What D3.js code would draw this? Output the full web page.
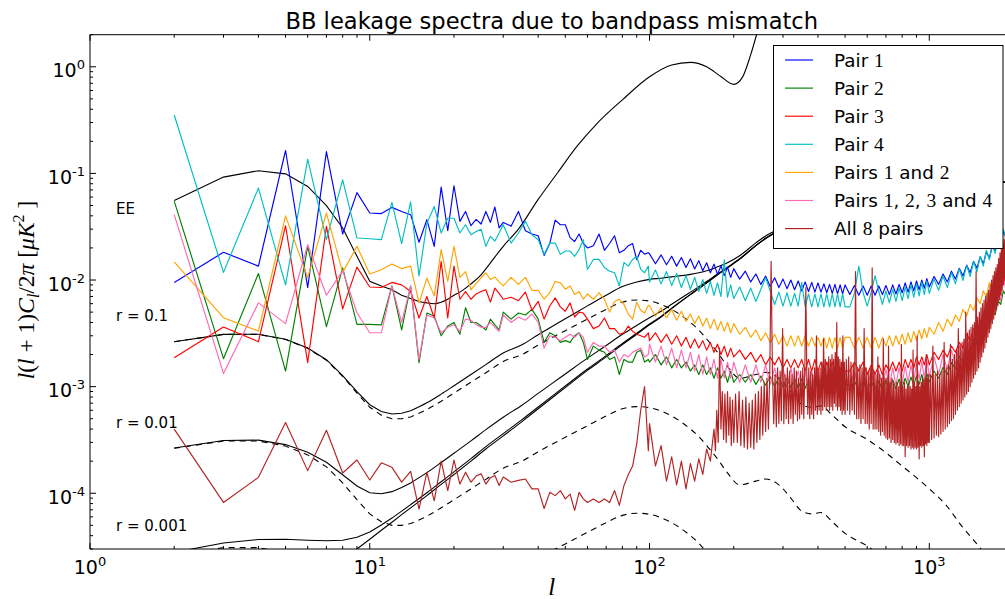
<!DOCTYPE html>
<html><head><meta charset="utf-8">
<script src="https://cdn.jsdelivr.net/npm/d3@7"></script>
<style>body{margin:0;background:#fff}svg{display:block}</style>
</head><body>
<svg id="c" width="1005" height="599"></svg>
<script>
// ---------- data ----------
const ellLow = [2,3,4,5,6,7,8,9,10,11,12,13,14,15,16,17,18,19,20,21,22,23,24,25,26,27,28,29,30,
  32,34,36,38,40,42,44,46,48,50,52,54,56,58,60,
  63,66,69,72,75,78,81,84,87,90,93,96,99];
const ellHigh = [100,105,110,115,120,125,130,135,140,145,150,155,160,165,170,175,180,185,190,195,200,
  210,220,230,240,250,260,270,280,290,300,310,320,330,340,350,360,370,380,390,400,410,420,430,440,450,460,470,480,490,500,
  520,540,560,580,600,620,640,660,680,700,720,740,760,780,800,820,840,860,880,900,920,940,960,980,1000,
  1040,1080,1120,1160,1200,1240,1280,1320,1360,1400,1440,1480,1520,1560,1600,1640,1680,1720,1760,1800,1840,1880,1920,1960,2000];
// multipole sampling grid used for the "All 8 pairs" curve above l = 100
const ellBrickHigh = [].concat(d3.range(100,171,5), d3.range(172,201,2), d3.range(203,501,3), d3.range(505,1001,5), d3.range(1010,2001,10));

const pair1Low = [0.0095,0.0182,0.0135,0.164,0.0085,0.160,0.027,0.066,0.0425,0.042,0.048,0.044,0.041,0.0226,0.0368,0.0207,0.0744,0.029,0.0766,0.0355,0.044,0.0323,0.037,0.0335,0.044,0.0347,0.0484,0.0308,0.0347,
  0.032,0.044,0.029,0.027,0.026,0.017,0.022,0.0365,0.033,0.033,0.025,0.023,0.027,0.022,0.020,
  0.021,0.027,0.019,0.022,0.026,0.018,0.019,0.021,0.022,0.0155,0.019,0.0175,0.018];
const pair1High = [0.0176,0.0142,0.0172,0.0139,0.0167,0.0135,0.0163,0.0131,0.0158,0.0127,0.0152,0.0122,0.0145,0.0117,0.0141,0.0113,0.0136,0.011,0.0132,0.0106,0.0128,
  0.0102,0.0121,0.0096,0.0114,0.0091,0.0109,0.0087,0.0105,0.0085,0.0102,0.0083,0.010,0.0081,0.0098,0.0079,0.0096,0.0078,0.0095,0.0077,0.0094,0.0077,0.0092,0.0076,0.0091,0.0075,0.0091,0.0074,0.009,0.0074,0.009,
  0.0073,0.0089,0.0072,0.0088,0.0072,0.0088,0.0072,0.0088,0.0073,0.0089,0.0073,0.009,0.0074,0.0091,0.0076,0.0094,0.0077,0.0096,0.0079,0.0098,0.0081,0.010,0.0084,0.0103,0.0086,
  0.0108,0.0091,0.0114,0.0096,0.0121,0.0102,0.0129,0.0109,0.0138,0.0117,0.015,0.0129,0.0165,0.0142,0.0184,0.016,0.0209,0.0185,0.0242,0.0216,0.0286,0.0252,0.033,0.0288,0.037];

const pair2Low = [0.055,0.00183,0.0115,0.0014,0.0207,0.00365,0.013,0.00384,0.00384,0.0038,0.0088,0.0034,0.0088,0.00168,0.0049,0.0046,0.003,0.0037,0.004,0.0031,0.0055,0.004,0.004,0.0037,0.0034,0.0043,0.0038,0.0034,0.005,
  0.0043,0.0049,0.0047,0.0053,0.0043,0.0026,0.0032,0.003,0.0026,0.0027,0.0026,0.003,0.0032,0.0026,0.0018,
  0.0024,0.0022,0.0021,0.0018,0.0019,0.0013,0.0018,0.0017,0.0017,0.0021,0.0022,0.0017,0.0018];
const pair2High = [0.0017,0.002,0.0016,0.0019,0.0015,0.0018,0.0015,0.0017,0.0014,0.0016,0.0013,0.0016,0.0013,0.0015,0.0012,0.0015,0.0012,0.0014,0.0011,0.0014,0.0011,
  0.0013,0.0011,0.0013,0.00105,0.00126,0.00103,0.00124,0.00101,0.00122,0.00099,0.0012,0.00098,0.0012,0.00097,0.00118,0.00096,0.00117,0.00096,0.00117,0.00095,0.00116,0.00095,0.00115,0.00094,0.00115,0.00094,0.00114,0.00094,0.00114,0.00094,
  0.00093,0.00113,0.00093,0.00113,0.00093,0.00113,0.00093,0.00113,0.00093,0.00114,0.00094,0.00116,0.00096,0.00118,0.00099,0.0012,0.001,0.00123,0.00103,0.00126,0.00105,0.0013,0.00108,0.00133,0.00111,
  0.0014,0.0012,0.00152,0.0013,0.00168,0.00147,0.00193,0.00171,0.0023,0.0021,0.0028,0.0025,0.0034,0.0031,0.004,0.0036,0.0051,0.0047,0.0064,0.0059,0.0079,0.0072,0.0099,0.009,0.012];

const pair3Low = [0.00187,0.00362,0.00264,0.0323,0.00168,0.0319,0.00537,0.0132,0.0086,0.0085,0.0095,0.009,0.0078,0.0044,0.007,0.0044,0.015,0.0044,0.0135,0.0066,0.0078,0.0066,0.0074,0.0078,0.0081,0.0062,0.0084,0.0075,0.0066,
  0.0069,0.0064,0.0077,0.0052,0.0063,0.0043,0.0057,0.0068,0.0056,0.0051,0.0061,0.0045,0.005,0.0049,0.0043,
  0.0035,0.0037,0.0044,0.0035,0.0035,0.0031,0.0032,0.0037,0.0033,0.0031,0.003,0.0029,0.0032];
const pair3High = [0.0027,0.0032,0.0026,0.0031,0.0025,0.003,0.0024,0.0029,0.0023,0.0028,0.0023,0.0027,0.0022,0.0026,0.0021,0.0025,0.002,0.0024,0.0019,0.0023,0.0019,
  0.0022,0.0018,0.0021,0.0017,0.002,0.0016,0.0019,0.0016,0.0019,0.0015,0.0018,0.0015,0.0018,0.0015,0.0018,0.0014,0.0018,0.0014,0.0018,0.0014,0.0017,0.0014,0.0017,0.0014,0.0017,0.0014,0.0017,0.0014,0.0017,0.0014,
  0.0014,0.0017,0.0014,0.0017,0.0013,0.0016,0.0013,0.0016,0.0013,0.0016,0.0014,0.0017,0.0014,0.0017,0.0014,0.0018,0.0015,0.0018,0.0015,0.0019,0.0016,0.0019,0.0016,0.002,0.0016,
  0.0021,0.0018,0.0022,0.0019,0.0024,0.0021,0.0026,0.0023,0.0031,0.0027,0.0035,0.0032,0.0042,0.0038,0.0052,0.0047,0.0064,0.0059,0.008,0.0074,0.0101,0.0094,0.0129,0.0117,0.016];

const pair4Low = [0.353,0.0118,0.0728,0.009,0.136,0.0239,0.087,0.0248,0.0244,0.0239,0.0534,0.022,0.054,0.0109,0.034,0.049,0.0276,0.038,0.038,0.0276,0.033,0.0266,0.0285,0.030,0.0207,0.0257,0.0232,0.0276,0.033,
  0.0222,0.0276,0.0355,0.0266,0.0239,0.0174,0.0222,0.0222,0.0174,0.0187,0.0187,0.0167,0.0193,0.0239,0.0126,
  0.0156,0.0156,0.0131,0.0121,0.0117,0.0088,0.0146,0.0135,0.0156,0.0167,0.0126,0.0117,0.0135];
const pair4High = [0.0096,0.0124,0.0092,0.012,0.0089,0.0115,0.0085,0.011,0.0082,0.0106,0.0078,0.0101,0.0075,0.0097,0.0072,0.0094,0.007,0.0155,0.0069,0.009,0.0067,
  0.0086,0.0064,0.0084,0.0063,0.0082,0.0105,0.0079,0.0059,0.0077,0.0057,0.0076,0.0057,0.0075,0.0057,0.0095,0.0056,0.0074,0.0056,0.0074,0.0056,0.0074,0.0056,0.0074,0.0056,0.0074,0.0056,0.0074,0.0056,0.0074,0.0056,
  0.0056,0.0075,0.0135,0.0076,0.0057,0.0077,0.011,0.0078,0.0059,0.0079,0.0061,0.0082,0.0063,0.0084,0.0064,0.0086,0.0067,0.009,0.0069,0.0092,0.0071,0.0095,0.0073,0.0098,0.0075,
  0.0102,0.008,0.0109,0.0085,0.0117,0.0092,0.0127,0.0099,0.0137,0.0108,0.015,0.0119,0.0167,0.0135,0.0191,0.0155,0.0219,0.0178,0.0253,0.0209,0.03,0.0244,0.0345,0.0278,0.039];

const pairs12Low = [0.0148,0.00443,0.00332,0.040,0.0105,0.0425,0.0118,0.0207,0.0114,0.0125,0.0141,0.0128,0.0135,0.0061,0.0104,0.0071,0.0193,0.0097,0.0207,0.0106,0.012,0.0081,0.0093,0.0105,0.0117,0.0101,0.0107,0.0096,0.0088,
  0.0106,0.0091,0.0106,0.008,0.008,0.0066,0.0076,0.0097,0.0094,0.0082,0.0088,0.0073,0.0078,0.0066,0.0074,
  0.0066,0.0076,0.0066,0.005,0.0063,0.0066,0.0059,0.0048,0.0043,0.0062,0.0052,0.0049,0.0058];
const pairs12High = [0.0057,0.0046,0.0055,0.0044,0.0053,0.0042,0.0051,0.0041,0.0048,0.0039,0.0046,0.0037,0.0044,0.0035,0.0043,0.0034,0.0041,0.0033,0.004,0.0032,0.0039,
  0.0031,0.0036,0.0029,0.0034,0.0027,0.0032,0.0026,0.0031,0.0025,0.003,0.0024,0.003,0.0024,0.003,0.0024,0.003,0.0024,0.0029,0.0024,0.0029,0.0024,0.0029,0.0023,0.0029,0.0023,0.0029,0.0023,0.0029,0.0023,0.0029,
  0.0029,0.0023,0.0029,0.0023,0.0029,0.0023,0.0029,0.0023,0.0029,0.0024,0.003,0.0024,0.003,0.0025,0.0031,0.0025,0.0032,0.0026,0.0033,0.0027,0.0034,0.0028,0.0035,0.0029,0.0036,
  0.0031,0.004,0.0033,0.0043,0.0037,0.0047,0.0041,0.0053,0.0046,0.0059,0.0052,0.0068,0.006,0.0079,0.007,0.0095,0.0086,0.0116,0.0105,0.0143,0.013,0.0176,0.0162,0.022,0.0198];

const pairs1234Low = [0.041,0.00133,0.0061,0.0039,0.0215,0.0072,0.0122,0.00493,0.0032,0.0032,0.0088,0.004,0.0088,0.0018,0.0047,0.0044,0.0032,0.0036,0.0038,0.0033,0.0043,0.0042,0.0038,0.0036,0.0036,0.004,0.0036,0.0033,0.0047,
  0.004,0.0045,0.0042,0.0048,0.004,0.0023,0.003,0.0029,0.0027,0.0029,0.0031,0.0029,0.0032,0.0029,0.0021,
  0.0026,0.0024,0.0024,0.0021,0.0022,0.0017,0.002,0.0019,0.0021,0.0022,0.0023,0.0019,0.002];
const pairs1234High = [0.0025,0.0017,0.0024,0.0016,0.0023,0.0015,0.0022,0.0015,0.0021,0.0014,0.002,0.0013,0.0019,0.0013,0.0018,0.0012,0.0018,0.0012,0.0017,0.0012,0.0017,
  0.0011,0.0016,0.0011,0.0016,0.0011,0.0016,0.00105,0.0015,0.00102,0.0015,0.001,0.0015,0.001,0.0014,0.001,0.0014,0.00098,0.0014,0.00097,0.0014,0.00096,0.0014,0.00095,0.0014,0.00095,0.0014,0.00095,0.0014,0.00095,0.0014,
  0.00095,0.0014,0.00095,0.0014,0.00096,0.0014,0.00097,0.0014,0.00099,0.00145,0.001,0.0015,0.00103,0.00152,0.00106,0.00156,0.0011,0.0016,0.00113,0.00166,0.00117,0.00172,0.0012,0.00178,0.00125,
  0.0019,0.0013,0.002,0.00145,0.0022,0.0016,0.0025,0.0018,0.0029,0.0022,0.0034,0.0026,0.0041,0.0032,0.005,0.0039,0.0064,0.005,0.0082,0.0064,0.0104,0.0081,0.0132,0.0102,0.0166];

const all8Low = [4.0e-4,8.2e-5,1.41e-4,4.6e-4,1.63e-4,3.9e-4,1.55e-4,2.05e-4,1.33e-4,1.93e-4,1.75e-4,1.27e-4,1.6e-4,7.1e-5,1.57e-4,8.5e-5,2.0e-4,1.06e-4,2.05e-4,1.22e-4,1.57e-4,1.27e-4,1.45e-4,1.52e-4,1.22e-4,1.4e-4,1.47e-4,1.18e-4,1.42e-4,
  1.27e-4,1.32e-4,1.36e-4,1.1e-4,1.1e-4,7.2e-5,1.02e-4,9.5e-5,1.06e-4,8.85e-5,9.8e-5,6.9e-5,1.02e-4,8.85e-5,8.2e-5,
  8.85e-5,8.2e-5,8.85e-5,8.2e-5,1.06e-4,7.7e-5,1.18e-4,1.5e-4,1.8e-4,2.9e-4,6e-4,1.0e-3,2.5e-4];
const all8High = [
  4.5e-4,1.8e-4,2.8e-4,1.3e-4,2.2e-4,1.2e-4,2.0e-4,1.1e-4,1.9e-4,1.3e-4,2.1e-4,1.5e-4,2.6e-4,2.0e-4,4.0e-4,
  2.5e-4,6e-4,3e-4,2.3e-3,4e-4,9e-4,3.2e-4,8.5e-4,3e-4,9e-4,3.5e-4,8e-4,2.8e-4,7.5e-4,3e-4,
  8.5e-4,3e-4,9e-4,2.8e-4,7.5e-4,2.7e-4,8e-4,2.6e-4,7e-4,2.7e-4,
  7.5e-4,2.6e-4,8.5e-4,3e-4,9e-4,3.2e-4,1.0e-3,3.5e-4,1.1e-3,3.8e-4,
  1.2e-3,4e-4,1.3e-3,1.5e-2,1.4e-3,4.5e-4,1.3e-3,4.2e-4,1.5e-3,4.5e-4,
  1.4e-3,4.8e-4,3.5e-3,4.5e-4,1.3e-3,5e-4,1.5e-3,4.5e-4,1.4e-3,5e-4,
  1.3e-3,4.5e-4,1.5e-3,5.5e-4,1.4e-3,4.8e-4,1.2e-3,5e-4,1.4e-3,5.5e-4,
  1.5e-3,5e-4,1.4e-3,8.5e-3,1.3e-3,5.5e-4,1.5e-3,5e-4,1.4e-3,5.5e-4,
  1.3e-3,5e-4,1.5e-3,6e-4,3e-3,5.5e-4,1.4e-3,6e-4,1.5e-3,5.5e-4,
  1.7e-3,6e-4,2.8e-3,6.5e-4,1.8e-3,6e-4,1.7e-3,6.5e-4,1.9e-3,6e-4,
  1.8e-3,6.5e-4,2e-3,6e-4,1.8e-3,7e-4,2.1e-3,6.5e-4,4e-3,6e-4,
  1.9e-3,6.5e-4,1.8e-3,6e-4,1.7e-3,5.5e-4,3e-3,6e-4,1.7e-3,5.5e-4,
  1.8e-3,6e-4,1.9e-3,5.5e-4,1.7e-3,6e-4,1.6e-3,5.5e-4,1.2e-2,5e-4,
  1.5e-3,5e-4,1.6e-3,4.5e-4,1.5e-3,5e-4,3.5e-3,4.5e-4,1.5e-3,4.5e-4,
  1.4e-3,4e-4,1.5e-3,4.5e-4,1.3e-2,4e-4,1.4e-3,4e-4,1.3e-3,4e-4,
  1.9e-3,3.8e-4,1.3e-3,3.5e-4,1.2e-3,3.8e-4,2.8e-3,3.5e-4,1.2e-3,3.3e-4,
  1.2e-3,3.2e-4,2.4e-3,3.3e-4,1.1e-3,3e-4,1.2e-3,3.2e-4,1.1e-3,3e-4,
  1.0e-3,2.9e-4,1.1e-3,3e-4,1.0e-3,2.8e-4,1.1e-3,2.9e-4,2.5e-3,2.8e-4,
  1.0e-3,2.8e-4,1.1e-3,2.2e-4,9.5e-4,2.8e-4,1.0e-3,2.7e-4,1.1e-3,2.8e-4,
  1.0e-3,2.6e-4,9.5e-4,2.7e-4,2.2e-3,2.6e-4,1.1e-3,2.7e-4,1.0e-3,2.6e-4,
  3e-3,2.7e-4,1.1e-3,2.1e-4,1.0e-3,2.8e-4,1.1e-3,2.7e-4,1.2e-3,2.8e-4,
  1.1e-3,2.2e-4,1.2e-3,2.9e-4,2.0e-3,2.8e-4,1.2e-3,3e-4,1.3e-3,3e-4,
  1.3e-3,3.2e-4,2.4e-3,3.3e-4,1.3e-3,3.5e-4,1.4e-3,3.4e-4,1.3e-3,3.6e-4,
  1.4e-3,3.8e-4,2.6e-3,4e-4,1.5e-3,4.2e-4,1.6e-3,4.5e-4,2.5e-3,4.8e-4,
  1.8e-3,5e-4,2e-3,5.5e-4,2.2e-3,6e-4,3.5e-3,6.5e-4,2.4e-3,7e-4,
  2.6e-3,7.5e-4,2.8e-3,8e-4,5e-3,8.5e-4,3.2e-3,9e-4,3.4e-3,1.0e-3,
  3.6e-3,1.1e-3,3.8e-3,1.2e-3,4e-3,1.3e-3,1.2e-2,1.4e-3,4.5e-3,1.5e-3,
  5e-3,1.7e-3,5.5e-3,1.9e-3,6e-3,2.1e-3,6.5e-3,2.3e-3,7e-3,2.6e-3,
  7.5e-3,2.9e-3,8e-3,3.2e-3,9e-3,3.5e-3,1.0e-2,3.9e-3,1.1e-2,4.3e-3,
  1.2e-2,4.8e-3,1.3e-2,5.3e-3,1.4e-2,5.8e-3,1.6e-2,6.5e-3,1.8e-2,7.2e-3,
  2.0e-2,8e-3,2.2e-2,9e-3,2.4e-2,1.0e-2,2.7e-2,1.1e-2,3.0e-2,1.2e-2,
  3.3e-2,1.3e-2,3.6e-2,1.5e-2,4e-2,1.6e-2,4.4e-2,1.8e-2,4.8e-2,2e-2];

// theory curves
const ellEE = [2,3,4,5,6,7,8,9,10,11,12,13,14,15,16,17,18,19,20,21,23,25,27,30,34,40,47,55,65,80,100,120,140,160,180,200,215,230,245,260,280];
const eeVals = [0.0558,0.0923,0.106,0.099,0.0754,0.0498,0.0308,0.0167,0.00975,0.0088,0.0081,0.0072,0.0067,0.0063,0.0061,0.006,0.0062,0.0066,0.0072,0.0077,
  0.0092,0.0112,0.0145,0.0207,0.03,0.057,0.102,0.179,0.295,0.49,0.806,1.04,1.1,1.0,0.81,0.684,0.8,1.3,2.3,4.0,8.0];
const ellTh = [2,3,4,5,6,7,8,9,10,11,12,13,14,16,18,20,23,26,30,35,40,45,50,60,70,80,90,100,110,120,140,150,160,175,190,210,240,260,290,320,350,380,410,450,500,600,700,800,900,1000,1150,1300,1500,1700,2000];
const tensorR01 = [2.64e-3,3.09e-3,3.09e-3,2.77e-3,2.29e-3,1.77e-3,1.25e-3,8.7e-4,6.4e-4,5.4e-4,5.0e-4,5.0e-4,5.2e-4,6.1e-4,7.3e-4,8.7e-4,1.1e-3,1.35e-3,1.72e-3,2.0e-3,2.45e-3,2.9e-3,3.35e-3,4.3e-3,5.3e-3,6.2e-3,6.5e-3,6.35e-3,5.9e-3,5.3e-3,4.0e-3,3.4e-3,2.8e-3,2.1e-3,1.55e-3,1.2e-3,1.3e-3,1.36e-3,1.2e-3,9.0e-4,6.8e-4,6.4e-4,6.6e-4,5.4e-4,4.2e-4,3.2e-4,2.4e-4,1.8e-4,1.4e-4,1.1e-4,7.7e-5,5.0e-5,3.2e-5,2.1e-5,1.2e-5];
const tensorR001 = [2.64e-4,3.09e-4,3.09e-4,2.77e-4,2.29e-4,1.77e-4,1.25e-4,8.7e-5,6.4e-5,5.4e-5,5.0e-5,5.0e-5,5.2e-5,6.1e-5,7.3e-5,8.7e-5,1.1e-4,1.35e-4,1.72e-4,2.0e-4,2.45e-4,2.9e-4,3.35e-4,4.3e-4,5.3e-4,6.2e-4,6.5e-4,6.35e-4,5.9e-4,5.3e-4,4.0e-4,3.4e-4,2.8e-4,2.1e-4,1.55e-4,1.2e-4,1.3e-4,1.36e-4,1.2e-4,9.0e-5,6.8e-5,6.4e-5,6.6e-5,5.4e-5,4.2e-5,3.2e-5,2.4e-5,1.8e-5,1.4e-5,1.1e-5,7.7e-6,5.0e-6,3.2e-6,2.1e-6,1.2e-6];
const tensorR0001 = [2.64e-5,3.09e-5,3.09e-5,2.77e-5,2.29e-5,1.77e-5,1.25e-5,8.7e-6,6.4e-6,5.4e-6,5.0e-6,5.0e-6,5.2e-6,6.1e-6,7.3e-6,8.7e-6,1.1e-5,1.35e-5,1.72e-5,2.0e-5,2.45e-5,2.9e-5,3.35e-5,4.3e-5,5.3e-5,6.2e-5,6.5e-5,6.35e-5,5.9e-5,5.3e-5,4.0e-5,3.4e-5,2.8e-5,2.1e-5,1.55e-5,1.2e-5,1.3e-5,1.36e-5,1.2e-5,9.0e-6,6.8e-6,6.4e-6,6.6e-6,5.4e-6,4.2e-6,3.2e-6,2.4e-6,1.8e-6,1.4e-6,1.1e-6,7.7e-7,5.0e-7,3.2e-7,2.1e-7,1.2e-7];
const lensingBB = [1.5e-6,3.3e-6,5.9e-6,9.3e-6,1.33e-5,1.81e-5,2.37e-5,3.0e-5,3.7e-5,4.5e-5,5.35e-5,6.3e-5,7.3e-5,9.5e-5,1.21e-4,1.5e-4,2.0e-4,2.6e-4,3.45e-4,4.7e-4,6.2e-4,7.9e-4,9.8e-4,1.42e-3,1.9e-3,2.48e-3,3.1e-3,3.8e-3,4.5e-3,5.4e-3,7.3e-3,8.3e-3,9.4e-3,1.12e-2,1.3e-2,1.57e-2,2.1e-2,2.45e-2,2.9e-2,3.3e-2,3.6e-2,4.0e-2,4.4e-2,4.9e-2,5.5e-2,6.6e-2,7.5e-2,8.2e-2,8.7e-2,9.0e-2,9.2e-2,9.2e-2,9.0e-2,8.6e-2,8.0e-2];
const totalR01 = [2.64e-3,3.09e-3,3.1e-3,2.78e-3,2.3e-3,1.79e-3,1.27e-3,9.0e-4,6.77e-4,5.85e-4,5.54e-4,5.63e-4,5.93e-4,7.05e-4,8.51e-4,1.02e-3,1.3e-3,1.61e-3,2.07e-3,2.47e-3,3.07e-3,3.69e-3,4.33e-3,5.72e-3,7.2e-3,8.68e-3,9.6e-3,1.015e-2,1.04e-2,1.07e-2,1.13e-2,1.17e-2,1.22e-2,1.33e-2,1.455e-2,1.69e-2,2.23e-2,2.59e-2,3.02e-2,3.39e-2,3.67e-2,4.06e-2,4.47e-2,4.95e-2,5.54e-2,6.63e-2,7.52e-2,8.22e-2,8.71e-2,9.01e-2,9.21e-2,9.2e-2,9.0e-2,8.6e-2,8.0e-2];
const totalR001 = [2.655e-4,3.12e-4,3.15e-4,2.86e-4,2.42e-4,1.95e-4,1.49e-4,1.17e-4,1.01e-4,9.9e-5,1.035e-4,1.13e-4,1.25e-4,1.56e-4,1.94e-4,2.37e-4,3.1e-4,3.95e-4,5.17e-4,6.7e-4,8.65e-4,1.08e-3,1.315e-3,1.85e-3,2.43e-3,3.1e-3,3.75e-3,4.435e-3,5.09e-3,5.93e-3,7.7e-3,8.64e-3,9.68e-3,1.141e-2,1.316e-2,1.582e-2,2.113e-2,2.464e-2,2.912e-2,3.309e-2,3.607e-2,4.006e-2,4.407e-2,4.905e-2,5.504e-2,6.603e-2,7.502e-2,8.202e-2,8.701e-2,9.001e-2,9.2e-2,9.2e-2,9.0e-2,8.6e-2,8.0e-2];
const totalR0001 = [2.79e-5,3.42e-5,3.68e-5,3.7e-5,3.62e-5,3.58e-5,3.62e-5,3.87e-5,4.34e-5,5.04e-5,5.85e-5,6.8e-5,7.82e-5,1.011e-4,1.283e-4,1.587e-4,2.11e-4,2.735e-4,3.622e-4,4.9e-4,6.445e-4,8.19e-4,1.0135e-3,1.463e-3,1.953e-3,2.542e-3,3.165e-3,3.864e-3,4.559e-3,5.453e-3,7.34e-3,8.334e-3,9.428e-3,1.1221e-2,1.3016e-2,1.5712e-2,2.1013e-2,2.4514e-2,2.9012e-2,3.3009e-2,3.6007e-2,4.0006e-2,4.4007e-2,4.9005e-2,5.5004e-2,6.6e-2,7.5e-2,8.2e-2,8.7e-2,9.0e-2,9.2e-2,9.2e-2,9.0e-2,8.6e-2,8.0e-2];

const seriesNames = ["Pair 1","Pair 2","Pair 3","Pair 4","Pairs 1 and 2","Pairs 1, 2, 3 and 4","All 8 pairs"];
const seriesColors = ["#0000ff","#008000","#ff0000","#00bfbf","#ffa500","#ff69b4","#b22222"];
const xTickVals = [1,10,100,1000];
const xTickExp = ["0","1","2","3"];
const yTickVals = [1e-4,1e-3,1e-2,1e-1,1];
const yTickExp = ["-4","-3","-2","-1","0"];
const textLabels = [["EE",0.042],["r = 0.1",0.0041],["r = 0.01",0.00041],["r = 0.001",0.0000445]];

// ---------- chart ----------
const svg = d3.select("#c");
const X0 = 90, X1 = 1013.5, Y0 = 34.7, Y1 = 549;
const x = d3.scaleLog().domain([1, 2000]).range([X0, X1]);
const y = d3.scaleLog().domain([3e-5, 2]).range([Y1, Y0]);

svg.append("rect").attr("width",1005).attr("height",599).attr("fill","#fff");
svg.append("defs").append("clipPath").attr("id","clip")
  .append("rect").attr("x",X0).attr("y",Y0).attr("width",X1-X0).attr("height",Y1-Y0);
const plot = svg.append("g").attr("clip-path","url(#clip)");

const zip = (ls, vs) => ls.map((l,i)=>[l, vs[i]]).filter(d=>d[1]!==undefined && d[1]>0);
const lin = d3.line().x(d=>x(d[0])).y(d=>y(d[1]));
const smooth = d3.line().x(d=>x(d[0])).y(d=>y(d[1])).curve(d3.curveMonotoneX);

// integer multipoles are joined by straight segments at low l, smooth at higher l
function drawTheory(ls, vs, dashed){
  const pts = zip(ls,vs);
  const lo = pts.filter(d=>d[0]<=14), hi = pts.filter(d=>d[0]>=14);
  const dpath = lin(lo) + smooth(hi).replace(/^M/,"L");
  plot.append("path").attr("d", dpath).attr("fill","none")
    .attr("stroke","#000").attr("stroke-width",1.1)
    .attr("stroke-dasharray", dashed ? "6,5" : null);
}
drawTheory(ellEE, eeVals, false);
drawTheory(ellTh, totalR01, false);
drawTheory(ellTh, totalR001, false);
drawTheory(ellTh, totalR0001, false);
drawTheory(ellTh, lensingBB, false);
drawTheory(ellTh, tensorR01, true);
drawTheory(ellTh, tensorR001, true);
drawTheory(ellTh, tensorR0001, true);

const ellAll = ellLow.concat(ellHigh);
const seriesData = [
  zip(ellAll, pair1Low.concat(pair1High)), zip(ellAll, pair2Low.concat(pair2High)), zip(ellAll, pair3Low.concat(pair3High)),
  zip(ellAll, pair4Low.concat(pair4High)), zip(ellAll, pairs12Low.concat(pairs12High)), zip(ellAll, pairs1234Low.concat(pairs1234High)),
  zip(ellLow.concat(ellBrickHigh), all8Low.concat(all8High))
];
seriesData.forEach((pts,i)=>{
  plot.append("path").attr("d", lin(pts)).attr("fill","none")
    .attr("stroke", seriesColors[i]).attr("stroke-width",1.15).attr("stroke-linejoin","round");
});

// in-plot labels
textLabels.forEach(([t,v])=>{
  svg.append("text").attr("x",116).attr("y",y(v)).text(t)
    .attr("font-family","DejaVu Sans").attr("font-size",15).attr("fill","#000");
});

// axes frame
const axG = svg.append("g").attr("stroke","#000").attr("stroke-width",1).attr("fill","none");
axG.append("line").attr("x1",X0).attr("x2",1005).attr("y1",Y0).attr("y2",Y0);
axG.append("line").attr("x1",X0).attr("x2",1005).attr("y1",Y1).attr("y2",Y1);
axG.append("line").attr("x1",X0).attr("x2",X0).attr("y1",Y0).attr("y2",Y1);

// ticks (inward, all sides)
x.ticks().filter(v=>v>=1 && v<=2000).forEach(v=>{
  const L = xTickVals.includes(v) ? 6 : 3;
  const px = x(v);
  axG.append("line").attr("x1",px).attr("x2",px).attr("y1",Y1).attr("y2",Y1-L);
  axG.append("line").attr("x1",px).attr("x2",px).attr("y1",Y0).attr("y2",Y0+L);
});
y.ticks().filter(v=>v>=3e-5 && v<=2).forEach(v=>{
  const L = yTickVals.some(t=>Math.abs(t-v)/t<1e-6) ? 6 : 3;
  const py = y(v);
  axG.append("line").attr("x1",X0).attr("x2",X0+L).attr("y1",py).attr("y2",py);
});

// tick labels
xTickVals.forEach((v,i)=>{
  const t = svg.append("text").attr("x",x(v)).attr("y",574).attr("text-anchor","middle")
    .attr("font-family","DejaVu Sans").attr("font-size",19).attr("fill","#000");
  t.append("tspan").text("10");
  t.append("tspan").attr("dy",-8).attr("font-size",13).text(xTickExp[i]);
});
yTickVals.forEach((v,i)=>{
  const t = svg.append("text").attr("x",85).attr("y",y(v)+10.5).attr("text-anchor","end")
    .attr("font-family","DejaVu Sans").attr("font-size",19).attr("fill","#000");
  t.append("tspan").text("10");
  t.append("tspan").attr("dy",-8).attr("font-size",13).text(yTickExp[i]);
});

// title
svg.append("text").attr("x",(X0+X1)/2).attr("y",29).attr("text-anchor","middle")
  .attr("font-family","DejaVu Sans").attr("font-size",22.6).attr("fill","#000")
  .text("BB leakage spectra due to bandpass mismatch");

// x label
svg.append("text").attr("x",(X0+X1)/2).attr("y",595).attr("text-anchor","middle")
  .attr("font-family","Liberation Serif").attr("font-style","italic").attr("font-size",25).text("l");

// y label
const yl = svg.append("text").attr("transform","translate(34,290) rotate(-90)")
  .attr("text-anchor","middle").attr("font-family","Liberation Serif").attr("font-size",23.5).attr("fill","#000");
const seg = (txt, opts={}) => {
  const s = yl.append("tspan").text(txt);
  if (opts.it) s.attr("font-style","italic");
  if (opts.fs) s.attr("font-size",opts.fs);
  if (opts.dy) s.attr("dy",opts.dy);
  return s;
};
seg("l",{it:1}); seg("("); seg("l",{it:1}); seg(" + 1)"); seg("C",{it:1});
seg("l",{it:1,fs:16,dy:5}); seg("/2",{dy:-5}); seg("π",{it:1}); seg("  ["); seg("μK",{it:1});
seg("2",{fs:16,dy:-10}); seg(" ]",{dy:10});

// legend
const lg = svg.append("g");
lg.append("rect").attr("x",773.5).attr("y",45.5).attr("width",229.5).attr("height",203)
  .attr("fill","#fff").attr("stroke","#000").attr("stroke-width",1);
const legendParts = [
  [["Pair ",0],["1",1]],
  [["Pair ",0],["2",1]],
  [["Pair ",0],["3",1]],
  [["Pair ",0],["4",1]],
  [["Pairs ",0],["1",1],[" and ",0],["2",1]],
  [["Pairs ",0],["1",1],[", ",0],["2",1],[", ",0],["3",1],[" and ",0],["4",1]],
  [["All ",0],["8",1],[" pairs",0]]
];
seriesNames.forEach((name,i)=>{
  const cy = 60 + i*28.1;
  lg.append("line").attr("x1",785).attr("x2",813).attr("y1",cy).attr("y2",cy)
    .attr("stroke",seriesColors[i]).attr("stroke-width",1.15);
  const t = lg.append("text").attr("x",834).attr("y",cy+6.5).attr("fill","#000")
    .attr("font-family","DejaVu Sans").attr("font-size",18.4);
  legendParts[i].forEach(([s,m])=>{
    const ts = t.append("tspan").text(s);
    if (m) ts.attr("font-family","Liberation Serif").attr("font-size",19.5);
  });
});
</script>
</body></html>
